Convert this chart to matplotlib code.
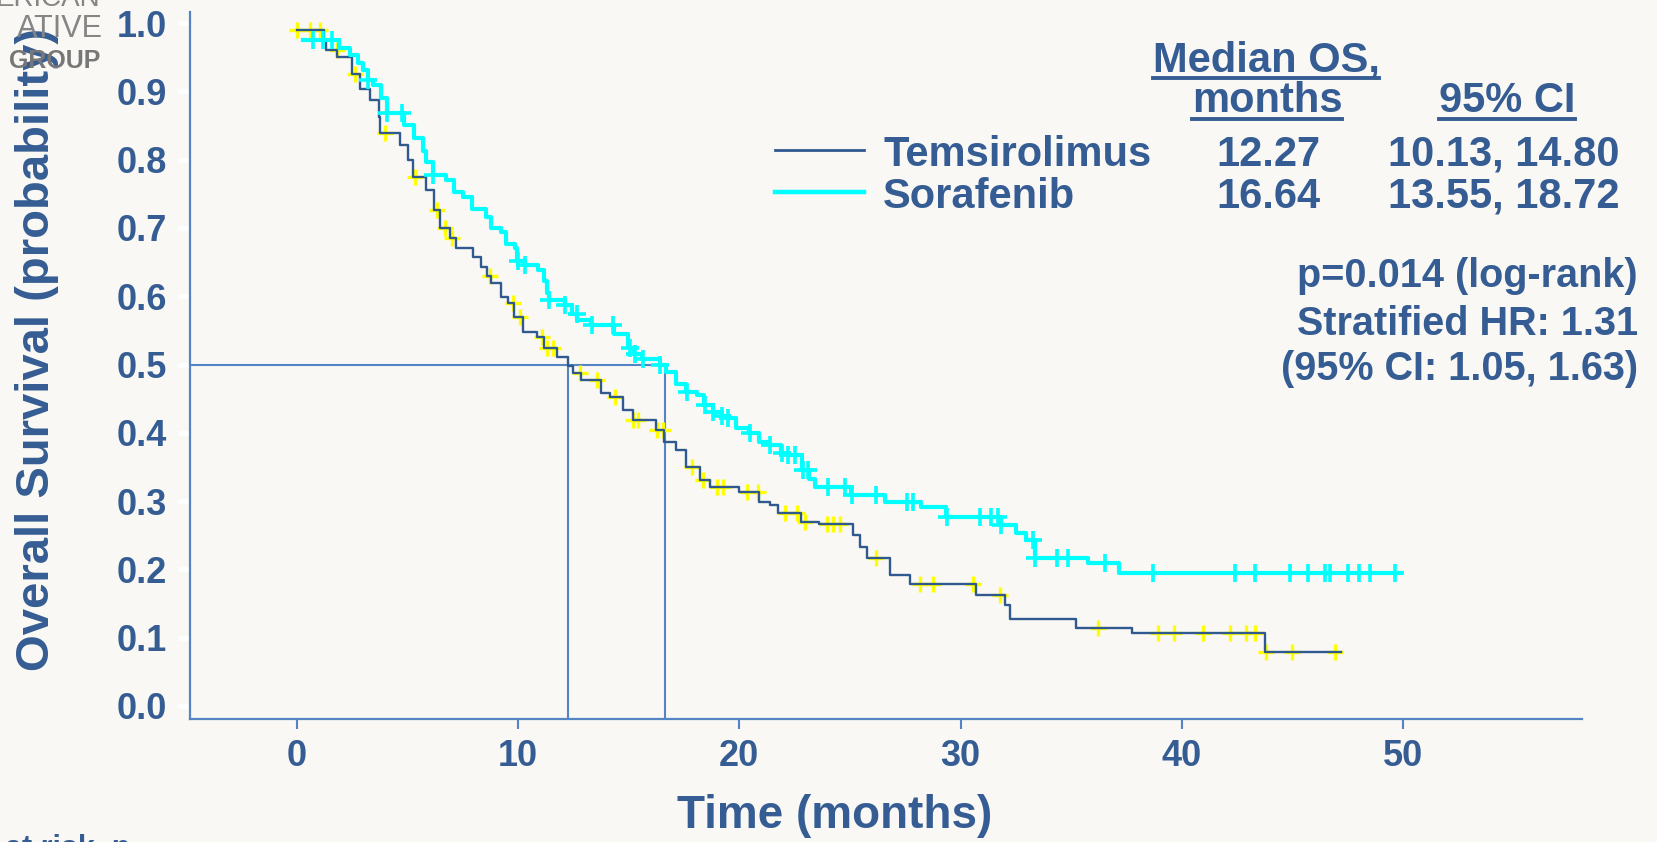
"""Overall survival Kaplan-Meier plot: temsirolimus vs sorafenib."""

import matplotlib

matplotlib.use("Agg")
import matplotlib.pyplot as plt
import numpy as np
from matplotlib.lines import Line2D

W, H = 1657, 842
BG = "#F9F8F4"
TEXT = "#355D93"
AXIS = "#5484C4"
TEM_COLOR = "#30598F"
SOR_COLOR = "#00FFFF"
TEM_CENSOR_COLOR = "#FFFF00"
LOGO_GREY = "#858585"

# Kaplan-Meier step knots (months, probability)
tem_time = [0.0, 1.2, 1.3, 1.8, 2.5, 2.85, 3.3, 3.7, 3.75, 4.65, 5.0, 5.25, 5.85, 6.2,
            6.45, 6.9, 7.2, 7.95, 8.3, 8.6, 8.75, 9.2, 9.55, 9.8, 10.2, 10.85, 11.15,
            11.75, 12.27, 12.5, 12.85, 13.75, 14.15, 14.75, 15.2, 16.25, 16.6, 17.15,
            17.6, 18.2, 18.65, 20.0, 20.9, 21.4, 21.75, 22.8, 23.6, 25.15, 25.45, 25.75,
            26.8, 27.7, 30.7, 32.0, 32.25, 35.2, 37.75, 43.75, 47.2]
tem_surv = [0.99, 0.975, 0.96, 0.95, 0.926, 0.904, 0.887, 0.863, 0.839, 0.821, 0.799,
            0.775, 0.755, 0.726, 0.70, 0.685, 0.67, 0.658, 0.643, 0.629, 0.619, 0.599,
            0.59, 0.57, 0.548, 0.541, 0.524, 0.511, 0.498, 0.487, 0.477, 0.458, 0.453,
            0.433, 0.419, 0.404, 0.387, 0.375, 0.35, 0.331, 0.321, 0.314, 0.299, 0.294,
            0.283, 0.27, 0.266, 0.25, 0.233, 0.217, 0.192, 0.178, 0.162, 0.148, 0.127,
            0.114, 0.107, 0.079, 0.079]
tem_censor = [0.0, 0.59, 1.04, 1.79, 2.62, 3.98, 5.33, 6.32, 6.69, 6.99, 8.73, 9.78,
              10.08, 11.06, 11.29, 11.59, 12.79, 13.55, 14.38, 15.2, 15.43, 16.26, 16.56,
              17.84, 18.37, 18.97, 19.27, 20.33, 20.85, 22.06, 22.59, 22.97, 23.95, 24.25,
              24.55, 26.2, 28.16, 28.77, 30.57, 31.78, 36.2, 38.94, 39.65, 40.97, 42.2,
              42.93, 43.31, 43.8, 44.97, 46.93]

sor_time = [0.25, 1.9, 2.4, 2.75, 3.0, 3.2, 3.45, 3.8, 4.05, 4.85, 5.3, 5.7, 5.85, 6.15,
            6.75, 7.1, 7.5, 7.9, 8.55, 8.75, 9.2, 9.45, 9.85, 9.95, 10.3, 10.9, 11.15,
            11.3, 11.4, 12.1, 12.45, 12.65, 13.3, 14.35, 14.95, 15.25, 15.6, 16.4, 16.7,
            17.15, 17.6, 18.1, 18.4, 18.8, 19.2, 19.5, 19.85, 20.45, 20.9, 21.35, 21.9,
            22.2, 22.85, 23.15, 23.4, 25.05, 26.6, 28.2, 29.35, 31.85, 32.5, 32.95, 33.35,
            35.75, 37.15, 49.9]
sor_surv = [0.975, 0.963, 0.953, 0.941, 0.931, 0.917, 0.909, 0.89, 0.868, 0.851, 0.831,
            0.812, 0.797, 0.777, 0.770, 0.753, 0.745, 0.728, 0.716, 0.70, 0.694, 0.676,
            0.670, 0.651, 0.646, 0.638, 0.623, 0.604, 0.594, 0.587, 0.574, 0.565, 0.558,
            0.545, 0.524, 0.516, 0.508, 0.499, 0.489, 0.472, 0.460, 0.455, 0.441, 0.431,
            0.424, 0.421, 0.407, 0.399, 0.387, 0.382, 0.370, 0.367, 0.346, 0.333, 0.321,
            0.309, 0.299, 0.291, 0.277, 0.265, 0.253, 0.243, 0.216, 0.209, 0.194, 0.194]
sor_censor = [0.74, 1.19, 1.57, 3.22, 4.05, 4.73, 6.16, 10.0, 10.31, 11.4, 12.12, 12.64,
              13.32, 14.3, 15.05, 15.28, 15.65, 16.41, 17.62, 18.44, 18.82, 19.2, 19.5,
              20.48, 21.38, 21.91, 22.21, 22.51, 22.89, 23.1, 23.99, 24.77, 25.08, 26.2,
              27.56, 27.86, 29.37, 30.88, 31.4, 31.7, 31.85, 33.29, 33.36, 34.36, 34.87,
              36.53, 38.71, 42.4, 43.31, 44.89, 45.72, 46.47, 46.7, 47.53, 48.01, 48.51,
              49.64]

arm_names = ["Temsirolimus", "Sorafenib"]
median_os = [12.27, 16.64]
median_labels = ["12.27", "16.64"]
ci_labels = ["10.13, 14.80", "13.55, 18.72"]
stats_lines = ["p=0.014 (log-rank)", "Stratified HR: 1.31", "(95% CI: 1.05, 1.63)"]
x_ticks = [0, 10, 20, 30, 40, 50]
y_ticks = [0.0, 0.1, 0.2, 0.3, 0.4, 0.5, 0.6, 0.7, 0.8, 0.9, 1.0]


def step_value(times, surv, at):
    idx = np.searchsorted(times, at, side="right") - 1
    return np.asarray(surv)[np.clip(idx, 0, len(surv) - 1)]


def ftext(fig, px, py, s, **kw):
    return fig.text(px / W, 1 - py / H, s, **kw)


def underline(fig, renderer, text, baseline_py, offset=7):
    bb = text.get_window_extent(renderer)
    y = 1 - (baseline_py + offset) / H
    fig.add_artist(Line2D([bb.x0 / W, bb.x1 / W], [y, y], lw=2.8, color=TEXT))


def main() -> None:
    plt.rcParams["font.family"] = ["Liberation Sans", "DejaVu Sans"]
    fig = plt.figure(figsize=(W / 100, H / 100), dpi=100, facecolor=BG)
    ax = fig.add_axes([190 / W, 1 - 719.3 / H, 1392 / W, 707.6 / H])
    ax.set_facecolor(BG)

    xlim = (-4.84, 58.1)
    ylim = (-0.0195, 1.0166)
    ax.set_xlim(*xlim)
    ax.set_ylim(*ylim)

    # median reference lines
    ax.plot([xlim[0], median_os[1]], [0.5, 0.5], color=AXIS, lw=1.5, zorder=1)
    for m in median_os:
        ax.plot([m, m], [ylim[0], 0.5], color=AXIS, lw=1.5, zorder=1)

    ax.plot(tem_censor, step_value(tem_time, tem_surv, tem_censor), ls="none",
            marker="+", ms=12, mew=2.4, color=TEM_CENSOR_COLOR, zorder=2)
    ax.step(tem_time, tem_surv, where="post", color=TEM_COLOR, lw=1.7, zorder=3)
    ax.step(sor_time, sor_surv, where="post", color=SOR_COLOR, lw=3, zorder=4)
    ax.plot(sor_censor, step_value(sor_time, sor_surv, sor_censor), ls="none",
            marker="+", ms=13, mew=2.6, color=SOR_COLOR, zorder=5)

    for side in ("top", "right"):
        ax.spines[side].set_visible(False)
    for side in ("left", "bottom"):
        ax.spines[side].set_color(AXIS)
        ax.spines[side].set_linewidth(1.6)

    ax.set_xticks(x_ticks)
    ax.set_xticklabels([str(v) for v in x_ticks])
    ax.set_yticks(y_ticks)
    ax.set_yticklabels([f"{v:.1f}" for v in y_ticks])
    ax.tick_params(axis="x", direction="out", length=7.5, width=1.5, color=AXIS,
                   pad=7, labelsize=26, labelcolor=TEXT)
    ax.tick_params(axis="y", direction="out", length=8.5, width=3.5, color="white",
                   pad=8, labelsize=26, labelcolor=TEXT)
    for lab in ax.get_xticklabels() + ax.get_yticklabels():
        lab.set_fontweight("bold")

    ftext(fig, 37, 349, "Overall Survival (probability)", rotation=90, ha="center",
          va="center", fontsize=34, fontweight="bold", color=TEXT)
    ftext(fig, 835, 816, "Time (months)", ha="center", va="center", fontsize=33,
          fontweight="bold", color=TEXT)
    ftext(fig, 5, 857, "at risk, n", ha="left", va="baseline", fontsize=22,
          fontweight="bold", color=TEXT)

    # partial logo in the corner
    ftext(fig, 100, 6, "ERICAN", ha="right", va="baseline", fontsize=20,
          fontweight="light", color=LOGO_GREY)
    ftext(fig, 103, 37, "ATIVE", ha="right", va="baseline", fontsize=22,
          fontweight="light", color=LOGO_GREY)
    ftext(fig, 100, 68, "GROUP", ha="right", va="baseline", fontsize=18,
          fontweight="bold", color="#777777")

    # legend / summary table
    head = dict(ha="center", va="baseline", fontsize=30, fontweight="bold", color=TEXT)
    h1 = ftext(fig, 1266, 71, "Median OS,", **head)
    h2 = ftext(fig, 1267, 112, "months", **head)
    h3 = ftext(fig, 1507, 112, "95% CI", **head)

    row_y = [166, 208]
    line_y = [150, 192]
    line_w = [2.0, 3.2]
    colors = [TEM_COLOR, SOR_COLOR]
    for i, name in enumerate(arm_names):
        fig.add_artist(Line2D([775 / W, 864 / W], [1 - line_y[i] / H] * 2,
                              lw=line_w[i], color=colors[i]))
        ftext(fig, 883, row_y[i], name, ha="left", va="baseline", fontsize=30,
              fontweight="bold", color=TEXT)
        ftext(fig, 1268, row_y[i], median_labels[i], ha="center", va="baseline",
              fontsize=30, fontweight="bold", color=TEXT)
        ftext(fig, 1504, row_y[i], ci_labels[i], ha="center", va="baseline",
              fontsize=30, fontweight="bold", color=TEXT)

    for line, y in zip(stats_lines, [287, 335, 380]):
        ftext(fig, 1638, y, line, ha="right", va="baseline", fontsize=28.5,
              fontweight="bold", color=TEXT)

    fig.canvas.draw()
    renderer = fig.canvas.get_renderer()
    underline(fig, renderer, h1, 71)
    underline(fig, renderer, h2, 112)
    underline(fig, renderer, h3, 112)

    fig.savefig("out.png", dpi=100, facecolor=BG)
    plt.close(fig)


if __name__ == "__main__":
    main()
